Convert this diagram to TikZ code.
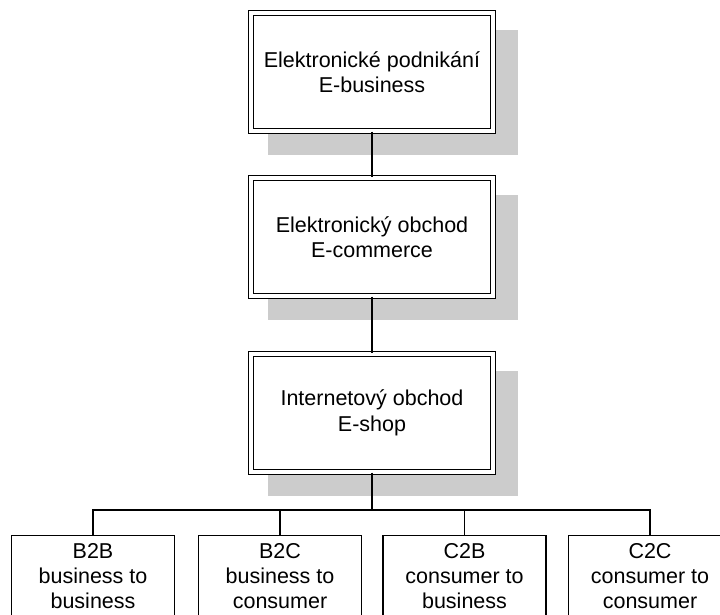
\documentclass[tikz,border=0pt]{standalone}
\usepackage{fontspec}
\setmainfont{Liberation Sans}
\definecolor{shadowgray}{HTML}{CCCCCC}
\tikzset{
  mainbox/.style={draw=black, double=white, line width=1.2pt, double distance=3.6pt,
    fill=white, minimum width=242pt, minimum height=118pt, inner sep=0pt,
    align=center, font=\fontsize{21.5}{25.5}\selectfont},
  boxshadow/.style={fill=shadowgray, draw=none},
  leafbox/.style={draw=black, line width=1.2pt, fill=white, minimum width=163pt,
    minimum height=140pt, anchor=north, inner sep=0pt},
  leaftext/.style={anchor=north, inner sep=0pt, yshift=-8pt, align=center,
    font=\fontsize{21.5}{25}\selectfont},
  link/.style={draw=black, line width=1.2pt}
}
\begin{document}
\begin{tikzpicture}[x=1pt, y=-1pt]
  \useasboundingbox (0,0) rectangle (720,615);
  \fill[white] (0,0) rectangle (720,615);
  \clip (0,0) rectangle (720,615);

  % drop shadows of the three main levels
  \fill[boxshadow] (268,30) rectangle (518,155);
  \fill[boxshadow] (268,195) rectangle (518,320);
  \fill[boxshadow] (268,371) rectangle (518,496);

  % main levels
  \node[mainbox] (ebus) at (372,72) {Elektronické podnikání\\E-business};
  \node[mainbox] (ecom) at (372,237) {Elektronický obchod\\E-commerce};
  \node[mainbox] (eshop) at (372,413) {Internetový obchod\\E-shop};

  % market segments
  \node[leafbox, label={[leaftext]north:{B2B\\business to\\business}}] (b2b) at (93,535) {};
  \node[leafbox, label={[leaftext]north:{B2C\\business to\\consumer}}] (b2c) at (280,535) {};
  \node[leafbox, label={[leaftext]north:{C2B\\consumer to\\business}}] (c2b) at (464.5,535) {};
  \node[leafbox, label={[leaftext]north:{C2C\\consumer to\\consumer}}] (c2c) at (650,535) {};

  % connectors
  \coordinate (bus) at (372,510);
  \draw[link] (ebus.south) -- (ecom.north);
  \draw[link] (ecom.south) -- (eshop.north);
  \draw[link] (eshop.south) -- (bus);
  \draw[link] (b2b.north) |- (bus) -| (c2c.north);
  \draw[link] (b2c.north) -- (b2c.north |- bus);
  \draw[link] (c2b.north) -- (c2b.north |- bus);
\end{tikzpicture}
\end{document}
